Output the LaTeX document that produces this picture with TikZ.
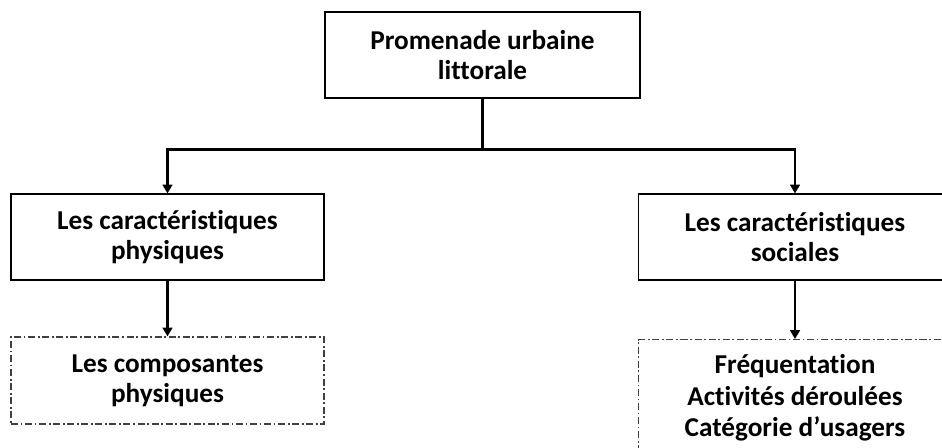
\documentclass[tikz,border=0pt]{standalone}
\usepackage{fontspec}
\setmainfont{Carlito}[Ligatures=NoCommon]
\usetikzlibrary{arrows.meta, calc, positioning}

\begin{document}
\begin{tikzpicture}[
    label font/.style={font=\fontsize{15.5}{17.2}\selectfont\bfseries},
    box/.style={draw, line width=0.6pt, minimum width=6.26cm, minimum height=1.72cm,
        align=center, label font},
    dashbox/.style={box, draw=black!75, dash pattern=on 4pt off 1.5pt on 1pt off 1.5pt},
    link/.style={line width=1.3pt},
    arrow/.style={link, -{Triangle[length=5pt, width=5.5pt]}}
]

    % 1. Fix the frame of the picture
    \useasboundingbox (0,0) rectangle (18.84,-8.96);

    % 2. Top box
    \node[box, minimum width=6.3cm] (prom) at (9.65,-1.1) {Promenade urbaine\\littorale};

    % 3. Middle boxes
    \node[box] (phys) at (3.35,-4.74) {Les caractéristiques\\physiques};
    \node[box] (soc) at (15.9,-4.74) {Les caractéristiques\\sociales};

    % 4. Bottom boxes (the right one runs past the lower edge)
    \node[dashbox, minimum height=1.74cm] (compo) at (3.35,-7.61) {Les composantes\\physiques};
    \node[dashbox, anchor=north, minimum height=2.8cm] (usage) at (15.9,-6.78) {};
    \node[align=center, font=\fontsize{15.5}{17.8}\selectfont\bfseries] (usagetxt)
        at (15.9,-7.96) {Fréquentation\\Activités déroulées\\Catégorie d’usagers};

    % 5. Connectors
    \coordinate (split) at ($(prom.south)+(0,-1.02)$);
    \draw[link] (prom.south) -- (split);
    \draw[arrow] (split) -| (phys.north);
    \draw[arrow] (split) -| (soc.north);
    \draw[arrow] (phys.south) -- (compo.north);
    \draw[arrow] (soc.south) -- (usage.north);

\end{tikzpicture}
\end{document}
